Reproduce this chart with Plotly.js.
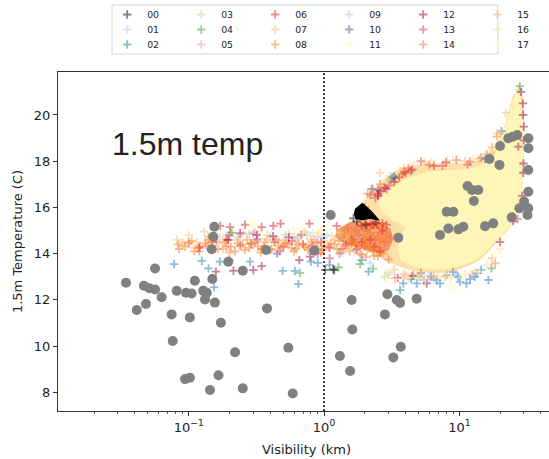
<!DOCTYPE html>
<html>
<head>
<meta charset="utf-8">
<script src="https://cdn.plot.ly/plotly-3.0.1.min.js"></script>
<style>
  html, body { margin: 0; padding: 0; background: #fff; overflow: hidden; }
  #chart { width: 560px; height: 459px; }
</style>
</head>
<body>
<div id="chart"></div>
<script>
// Ensemble members 00-17: visibility (km) vs 1.5 m temperature (C)
const members = ['00','01','02','03','04','05','06','07','08','09','10','11','12','13','14','15','16','17'];
const memberColors = ['#000000','#a6cee3','#1f78b4','#b2df8a','#33a02c','#fb9a99','#e31a1c','#fdbf6f',
                      '#ff7f00','#cab2d6','#6a3d9a','#ffff99','#9e0142','#d53e4f','#f46d43','#fdae61',
                      '#fee08b','#ffffbf'];

const s00x = [1.17,1.19,1.02,1.65,2.05,2.4,1.95,1.75];
const s00y = [13.32,13.29,13.3,15.53,15.25,15.35,15.6,15.4];
const s01x = [0.14,0.16,0.19,0.23,0.28,0.33,0.4,0.46,0.52,0.6,0.68,0.75,0.83,0.9,0.97,1.05,1.5,2.2,3.0,4.5,6.5,9.5];
const s01y = [14.75,14.6,14.8,14.7,14.85,14.65,14.75,14.6,14.8,14.7,14.85,14.8,14.9,14.75,14.7,14.8,14.5,13.6,13.2,13.0,12.9,13.1];
const s02x = [0.078,0.125,0.14,0.17,0.2,0.284,0.495,0.61,0.646,0.8,0.154,1.9,2.13,3.65,3.85,4.84,7.2,10.1,11.3,13.0,13.4,16.4,8.06,3.35,15.9,2.5,0.9,1.1,5.5,6.2,9.0,20.5,2.25,3.2,3.1,3.3,15.5,4.4,5.0,6.8,9.8,12.0,14.5];
const s02y = [13.55,13.69,13.36,13.65,13.72,13.65,13.25,13.25,12.68,13.65,12.54,13.72,13.22,12.42,12.71,12.71,12.71,12.78,12.71,13.0,13.15,12.86,13.07,17.26,18.12,16.75,13.6,13.5,12.85,13.0,13.2,19.3,16.8,17.3,17.2,17.35,18.1,12.9,13.0,12.85,13.0,12.9,13.3];
const s03x = [0.21,0.95,1.35,2.8,27.5];
const s03y = [14.9,14.3,14.05,13.0,21.1];
const s04x = [0.207,0.665,1.28,2.3,17.3,28.0,1.85];
const s04y = [14.91,13.17,13.41,13.35,13.36,21.25,13.55];
const s05x = [0.1,0.18,0.3,0.55,0.85,1.4,4.2,12.5,3.9,6.0];
const s05y = [14.5,14.2,14.9,14.4,14.6,14.2,12.95,13.1,13.1,12.9];
const s06x = [0.171,0.202,0.261,0.346,0.422,0.478,0.779,1.24,0.12,0.15,0.19,0.24,0.29,0.35,0.43,0.5,0.58,0.7,0.82,0.95,1.1,2.2,2.45,2.7,2.5,2.9,3.3,3.6,4.0,4.4,2.35,2.6,1.45,1.6,1.75,1.9,2.0,2.3,2.9,3.9,6.5,1.9,2.4,2.2,2.7];
const s06y = [15.2,15.15,15.25,15.15,15.2,15.3,15.3,15.2,14.3,14.5,14.6,14.35,14.45,14.2,14.5,14.3,14.55,14.4,14.35,14.5,14.25,15.3,15.3,15.32,16.6,16.8,17.1,17.3,17.5,17.6,14.3,14.1,14.4,14.6,14.2,14.5,15.3,15.28,15.25,17.55,17.8,15.2,15.1,14.6,15.0];
const s07x = [0.082,0.09,0.1,0.115,0.13,0.17,0.25,0.38,0.55,0.72,0.9,1.15,1.5,0.31,0.64,3.0,5.0,2.6,20.0];
const s07y = [14.6,14.35,14.8,14.5,14.95,14.7,14.9,14.8,14.85,14.95,14.9,14.75,14.6,14.95,14.7,13.1,13.0,17.5,19.2];
const s08x = [0.083,0.094,0.105,0.118,0.132,0.147,0.165,0.185,0.205,0.23,0.26,0.29,0.325,0.365,0.41,0.46,0.515,0.575,0.645,0.72,0.81,0.9,1.0,1.12,1.25,1.4,1.55,1.7,1.9,2.1,2.35,2.6,0.11,0.14,0.2,0.27,0.34,0.44,0.6,0.76,0.95,1.3,1.65,2.0,18.9,16.0,17.5,1.4,1.7,2.0,2.3,2.6,2.9,1.6,2.2];
const s08y = [14.4,14.3,14.55,14.25,14.45,14.35,14.2,14.5,14.3,14.45,14.15,14.4,14.3,14.5,14.2,14.35,14.45,14.25,14.4,14.3,14.5,14.2,14.35,14.45,14.2,14.3,14.1,14.4,13.95,14.2,13.9,14.05,14.1,14.6,14.05,14.6,14.05,14.6,14.1,14.15,14.05,14.55,14.6,14.45,19.06,18.3,18.6,14.9,15.0,14.7,14.9,14.6,14.8,14.4,14.3];
const s09x = [0.3,0.62,1.8,6.0];
const s09y = [14.85,14.6,14.7,13.05];
const s10x = [0.45,2.0,5.2];
const s10y = [14.0,16.0,13.15];
const s11x = [0.29,0.6,0.9,2.4,9.03,8.0,5.0];
const s11y = [15.3,15.05,14.9,15.0,12.5,13.1,12.95];
const s12x = [0.159,0.214,0.3,0.346,0.657,0.788,0.24,0.318,0.196,0.55,0.42,2.6,2.5,2.8,5.74,27.3,29.7,29.2,30.0,29.5,28.6,3.5,4.5,8.0,20.0,25.0,29.8,29.9,29.6,28.9];
const s12y = [13.22,13.26,13.29,13.46,13.72,13.87,14.88,14.81,14.59,14.7,14.75,16.7,16.5,16.85,12.71,18.63,17.5,16.5,19.5,20.5,21.0,12.95,13.05,17.95,14.5,15.4,17.9,18.9,20.0,16.1];
const s13x = [0.12,0.2,0.32,0.47,0.68,0.9,1.3,12.0,2.2,2.4,3.0,3.8,4.2,6.0,1.1,4.5,5.2,7.5,9.5,11.5,14.5,27.0];
const s13y = [14.25,14.8,14.6,14.1,14.8,14.0,14.0,17.98,16.55,16.4,16.95,17.45,17.7,17.85,13.8,17.65,18.0,17.8,18.05,17.85,18.15,15.5];
const s14x = [0.085,0.1,0.12,0.135,0.16,0.19,0.22,0.25,0.28,0.31,0.36,0.4,0.48,0.53,0.62,0.7,0.78,0.88,0.98,1.08,1.2,1.35,1.5,1.7,1.85,2.05,2.3,2.5,2.75,3.0,18.4,3.35,1.6,2.0,2.4,2.1,2.3,2.6,1.5,1.8,2.1,2.5,2.8,3.1];
const s14y = [14.2,14.45,14.1,14.35,14.5,14.3,14.1,14.4,14.25,14.5,14.3,14.15,14.25,14.45,14.2,14.4,14.25,14.45,14.15,14.3,14.4,14.2,14.35,14.15,14.0,13.85,14.1,13.9,14.0,13.75,13.58,12.93,14.5,14.3,14.6,16.6,16.8,17.0,15.1,14.8,15.0,14.9,14.5,14.7];
const s15x = [0.09,0.11,0.14,0.18,0.23,0.3,0.38,0.5,0.65,0.8,1.0,1.2,1.45,2.6,3.1,3.9,5.5,8.0,11.0,14.0,17.0,19.0,22.0,4.0,6.5,3.3,4.6,7.8,17.5];
const s15y = [14.5,14.25,14.7,14.45,14.6,14.35,14.6,14.55,14.45,14.6,14.55,14.6,14.8,17.0,17.35,17.7,17.95,18.0,18.0,18.1,18.35,19.2,20.1,13.0,13.05,13.3,13.1,13.0,13.8];
const s16x = [0.7,0.95,1.3,2.9,3.6,4.6,6.2,9.0,12.5,15.5,20.0,25.0,4.0,7.0,11.0,5.2,8.7,13.0,16.0,20.0];
const s16y = [14.9,15.0,14.9,17.2,17.6,17.9,18.0,18.05,18.1,18.25,18.9,20.4,13.2,13.0,13.1,13.1,12.95,13.25,13.5,14.2];
const s17x = [0.85,1.05,3.4,5.6,8.5,10.5,14.0,18.0,22.0,26.0,3.0,4.2];
const s17y = [14.95,15.05,12.9,12.85,12.6,12.95,13.2,13.9,14.8,15.8,13.3,12.95];

const memberX = [s00x,s01x,s02x,s03x,s04x,s05x,s06x,s07x,s08x,s09x,s10x,s11x,s12x,s13x,s14x,s15x,s16x,s17x];
const memberY = [s00y,s01y,s02y,s03y,s04y,s05y,s06y,s07y,s08y,s09y,s10y,s11y,s12y,s13y,s14y,s15y,s16y,s17y];

// Outlines of the regions where member points pile up too densely to separate
const denseWarmX = [27.6,29.4,30.1,30.2,29.7,28.4,25.8,22.4,19.4,16.9,14.2,11.3,9.03,6.81,4.84,3.65,2.91,2.31,1.85,1.39,1.24,1.31,1.74,1.69,1.90,2.19,2.74,3.65,4.84,7.20,10.7,14.2,16.9,19.4,21.1,23.0,24.8];
const denseWarmY = [21.20,20.79,20.07,18.63,17.19,16.18,15.45,14.95,14.59,14.16,13.72,13.43,13.22,13.15,13.22,13.43,13.65,14.01,14.30,14.59,14.88,15.16,15.31,15.81,16.18,16.61,17.19,17.69,17.84,17.91,17.91,18.05,18.27,18.70,19.35,20.07,20.79];
const denseCoreX = [27.4,29.5,29.9,29.4,28.0,25.4,22.0,18.8,15.5,12.2,9.03,6.5,4.7,3.7,3.5,3.65,4.0,3.2,2.7,2.5,2.9,3.9,5.8,9.3,13.5,16.5,19.5,21.2,22.9,25.0];
const denseCoreY = [21.12,20.07,18.63,17.19,16.08,15.42,15.0,14.56,14.05,13.62,13.38,13.3,13.42,13.7,14.2,14.7,15.14,15.45,15.78,16.22,16.7,17.2,17.55,17.62,17.75,17.98,18.55,19.25,19.98,20.7];
const denseOrangeX = [1.24,1.56,2.59,3.1,3.25,3.0,2.59,1.85,1.39,1.21];
const denseOrangeY = [15.02,15.38,15.31,15.1,14.6,14.15,14.01,14.23,14.45,14.73];
const denseBlackX = [1.92,2.25,2.6,2.2,1.9,1.7,1.66,1.7];
const denseBlackY = [16.2,15.85,15.42,15.5,15.44,15.5,15.75,15.95];

// Observations (grey dots)
const obsX = [0.1545,0.152,0.148,0.196,0.251,0.373,0.848,1.12,0.0564,0.1495,0.111,0.0344,0.0467,0.0512,0.0564,0.0815,0.0955,0.105,0.128,0.136,0.0631,0.132,0.0483,0.156,0.0413,0.0748,0.102,0.379,0.173,0.0762,0.22,0.545,0.094,0.102,0.166,0.1436,0.251,0.587,1.31,
              3.54,7.2,8.3,9.84,10.7,15.5,17.8,8.07,9.03,12.8,11.5,12.4,13.8,19.8,16.7,20.0,23.0,26.8,24.8,32.4,32.4,32.3,32.3,30.1,27.8,32.3,31.9,24.4,
              1.60,2.94,3.45,3.65,4.84,2.82,1.62,3.69,3.25,1.56];
const obsY = [15.16,14.73,14.19,13.65,13.26,14.16,14.13,15.67,13.36,12.9,12.83,12.74,12.61,12.5,12.45,12.39,12.31,12.28,12.39,12.31,12.11,12.02,11.82,11.88,11.56,11.37,11.24,11.63,11.01,10.22,9.73,9.93,8.57,8.63,8.74,8.10,8.17,7.95,9.57,
              14.69,14.81,15.09,15.05,15.16,15.19,15.31,15.81,15.81,16.28,16.93,16.75,16.75,17.84,18.1,18.66,18.99,19.13,19.06,18.99,18.56,17.62,16.68,16.25,15.96,15.96,15.67,15.57,
              11.99,12.24,11.99,11.87,12.05,11.37,10.72,9.97,9.51,8.92];

// Axis settings
const xRangeLog = [-1.966, 1.707];
const yRange = [7.19, 21.86];
const xTickVals = [0.1, 1, 10];
const xTickText = ['10<sup>−1</sup>', '10<sup>0</sup>', '10<sup>1</sup>'];
const xMinorVals = [0.02,0.03,0.04,0.05,0.06,0.07,0.08,0.09,
                    0.2,0.3,0.4,0.5,0.6,0.7,0.8,0.9,
                    2,3,4,5,6,7,8,9,20,30,40,50];
const yTickVals = [8, 10, 12, 14, 16, 18, 20];
const thresholdKm = 1;

function rgba(hex, a) {
  const n = parseInt(hex.slice(1), 16);
  return 'rgba(' + ((n >> 16) & 255) + ',' + ((n >> 8) & 255) + ',' + (n & 255) + ',' + a + ')';
}

function areaTrace(xs, ys, color) {
  return { x: xs, y: ys, type: 'scatter', mode: 'lines', fill: 'toself',
           fillcolor: color, line: { width: 0, color: color },
           hoverinfo: 'skip', showlegend: false };
}

const traces = [];
traces.push(areaTrace(denseWarmX, denseWarmY, '#fde0a6'));
traces.push(areaTrace(denseOrangeX, denseOrangeY, '#f39566'));
traces.push(areaTrace(denseCoreX, denseCoreY, '#fef5b9'));

const legendIds = ['legend', 'legend2', 'legend3'];
members.forEach((name, i) => {
  traces.push({
    x: memberX[i], y: memberY[i], name: name,
    type: 'scatter', mode: 'markers',
    legend: legendIds[i % 3],
    marker: { symbol: 'cross-thin', size: 6,
              color: rgba(memberColors[i], 0.5),
              line: { width: 1.8, color: rgba(memberColors[i], 0.5) } }
  });
});

traces.push(areaTrace(denseBlackX, denseBlackY, '#000000'));

traces.push({
  x: [thresholdKm, thresholdKm], y: yRange, type: 'scatter', mode: 'lines',
  line: { color: '#000', width: 1.7, dash: '1.7px,2.3px' },
  hoverinfo: 'skip', showlegend: false
});

traces.push({
  x: obsX, y: obsY, type: 'scatter', mode: 'markers',
  marker: { symbol: 'circle', size: 10, color: '#808080' },
  hoverinfo: 'skip', showlegend: false
});

const font = { family: 'DejaVu Sans', size: 13, color: '#222' };
const legendBase = {
  orientation: 'h', xanchor: 'left', yanchor: 'top',
  bgcolor: 'rgba(0,0,0,0)', borderwidth: 0,
  entrywidth: 29, entrywidthmode: 'pixels',
  font: { family: 'DejaVu Sans', size: 9.3, color: '#222' },
  x: 0.099
};

const layout = {
  width: 560, height: 459,
  margin: { l: 58, r: 5, t: 72, b: 48, autoexpand: false },
  paper_bgcolor: '#fff', plot_bgcolor: '#fff',
  font: font,
  showlegend: true,
  legend: Object.assign({}, legendBase, { y: 1.2124 }),
  legend2: Object.assign({}, legendBase, { y: 1.1681 }),
  legend3: Object.assign({}, legendBase, { y: 1.1239 }),
  xaxis: {
    type: 'log', range: xRangeLog,
    showline: true, mirror: true, linecolor: '#333', linewidth: 1,
    showgrid: false, zeroline: false,
    ticks: 'outside', ticklen: 4, tickwidth: 1, tickcolor: '#333',
    tickmode: 'array', tickvals: xTickVals, ticktext: xTickText,
    minor: { tickmode: 'array', tickvals: xMinorVals, ticks: 'outside', ticklen: 2.2,
             tickwidth: 0.8, tickcolor: '#333', showgrid: false },
    tickfont: font,
    title: { text: 'Visibility (km)', font: font, standoff: 11 }
  },
  yaxis: {
    range: yRange,
    showline: true, mirror: true, linecolor: '#333', linewidth: 1,
    showgrid: false, zeroline: false,
    ticks: 'outside', ticklen: 4, tickwidth: 1, tickcolor: '#333',
    tickmode: 'array', tickvals: yTickVals,
    tickfont: font,
    title: { text: '1.5m Temperature (C)', font: font, standoff: 8 }
  },
  shapes: [{
    type: 'rect', xref: 'paper', yref: 'paper',
    x0: 0.1087, x1: 0.8853, y0: 1.0531, y1: 1.1976,
    line: { color: '#d5d5d5', width: 1 }, fillcolor: 'rgba(0,0,0,0)'
  }],
  annotations: [{
    text: '1.5m temp', xref: 'x', yref: 'y', x: -1.582, y: 18.75,
    xanchor: 'left', yanchor: 'middle', showarrow: false,
    font: { family: 'Liberation Sans', size: 32, color: '#222' }
  }]
};

Plotly.newPlot('chart', traces, layout, { displayModeBar: false, staticPlot: true });
</script>
</body>
</html>
